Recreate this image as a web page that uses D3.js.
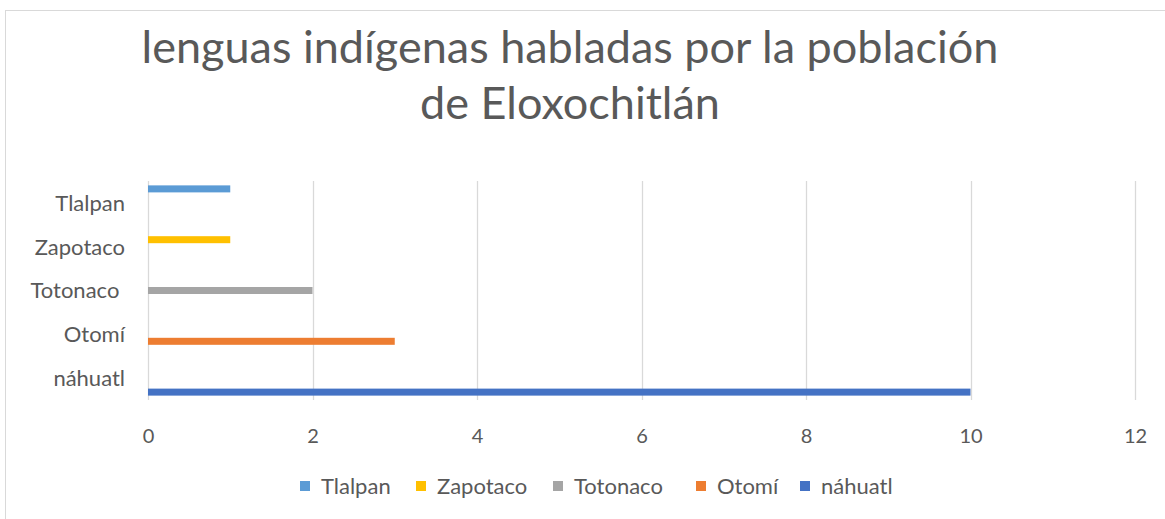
<!DOCTYPE html>
<html><head><meta charset="utf-8">
<script src="https://cdn.jsdelivr.net/npm/d3@7"></script>
<style>body{margin:0;background:#fff}svg{display:block}</style>
</head><body>
<svg id="c" width="1165" height="519"></svg>
<script>
const categories = ["náhuatl", "Otomí", "Totonaco ", "Zapotaco", "Tlalpan"];
const seriesNames = ["náhuatl", "Otomí", "Totonaco", "Zapotaco", "Tlalpan"];
const seriesColors = ["#4472c4", "#ed7d31", "#a5a5a5", "#ffc000", "#5b9bd5"];
// values[series][category]; each language only has a value in its own category
const nahuatlValues = [10, null, null, null, null];
const otomiValues = [null, 3, null, null, null];
const totonacoValues = [null, null, 2, null, null];
const zapotacoValues = [null, null, null, 1, null];
const tlalpanValues = [null, null, null, null, 1];
const seriesValues = [nahuatlValues, otomiValues, totonacoValues, zapotacoValues, tlalpanValues];
const xTicks = [0, 2, 4, 6, 8, 10, 12];
const titleLines = ["lenguas indígenas habladas por la población", "de Eloxochitlán"];
const legendOrder = ["Tlalpan", "Zapotaco", "Totonaco", "Otomí", "náhuatl"];

const svg = d3.select("#c");
const font = "Lato, 'Open Sans', sans-serif";
const txt = "#595959";

svg.append("rect").attr("x", 5.5).attr("y", 10.5).attr("width", 1300).attr("height", 700)
  .attr("fill", "#fff").attr("stroke", "#d9d9d9").attr("stroke-width", 1);

const title = svg.append("text").attr("text-anchor", "middle").attr("fill", txt)
  .style("font-family", font).style("font-size", "45px");
titleLines.forEach((l, i) => title.append("tspan").attr("x", 570).attr("y", 63 + i * 56).text(l));

const x = d3.scaleLinear().domain([0, 12]).range([148, 1135]);
const y = d3.scaleBand().domain(categories).range([400, 181]).paddingInner(0.2).paddingOuter(0.1);
const ySub = d3.scaleBand().domain(d3.range(seriesNames.length)).range([y.bandwidth(), 0]);

svg.append("g").selectAll("line").data(xTicks).join("line")
  .attr("x1", d => Math.round(x(d)) + 0.5).attr("x2", d => Math.round(x(d)) + 0.5)
  .attr("y1", 181).attr("y2", 400).attr("stroke", "#d9d9d9").attr("stroke-width", 1.3);

const xAxis = svg.append("g").attr("transform", "translate(0,400)")
  .call(d3.axisBottom(x).tickValues(xTicks).tickSize(0).tickPadding(0).tickFormat(d3.format("d")));
xAxis.select(".domain").remove();
xAxis.selectAll("text").attr("y", 43).attr("dy", null).attr("fill", txt)
  .style("font-family", font).style("font-size", "20px");

const g = svg.append("g");
seriesValues.forEach((vals, si) => {
  g.append("g").attr("fill", seriesColors[si]).selectAll("rect")
    .data(vals.map((v, ci) => ({v, c: categories[ci]})).filter(d => d.v != null))
    .join("rect")
    .attr("x", x(0)).attr("y", d => y(d.c) + ySub(si))
    .attr("width", d => x(d.v) - x(0)).attr("height", ySub.bandwidth());
});

const yAxis = svg.append("g").attr("transform", "translate(125,0)")
  .call(d3.axisLeft(y).tickSize(0).tickPadding(0));
yAxis.select(".domain").remove();
yAxis.selectAll("text").attr("fill", txt).attr("x", 0).attr("dy", "0.36em")
  .style("font-family", font).style("font-size", "22px").style("white-space", "pre")
  .attr("xml:space", "preserve");

const legendX = [300, 416, 553, 696, 800];
const lg = svg.append("g");
legendOrder.forEach((n, i) => {
  const si = seriesNames.indexOf(n);
  lg.append("rect").attr("x", legendX[i]).attr("y", 481).attr("width", 10).attr("height", 10)
    .attr("fill", seriesColors[si]);
  lg.append("text").attr("x", legendX[i] + 21).attr("y", 486).attr("dy", "0.36em")
    .attr("fill", txt).style("font-family", font).style("font-size", "22px").text(n);
});
</script>
</body></html>
